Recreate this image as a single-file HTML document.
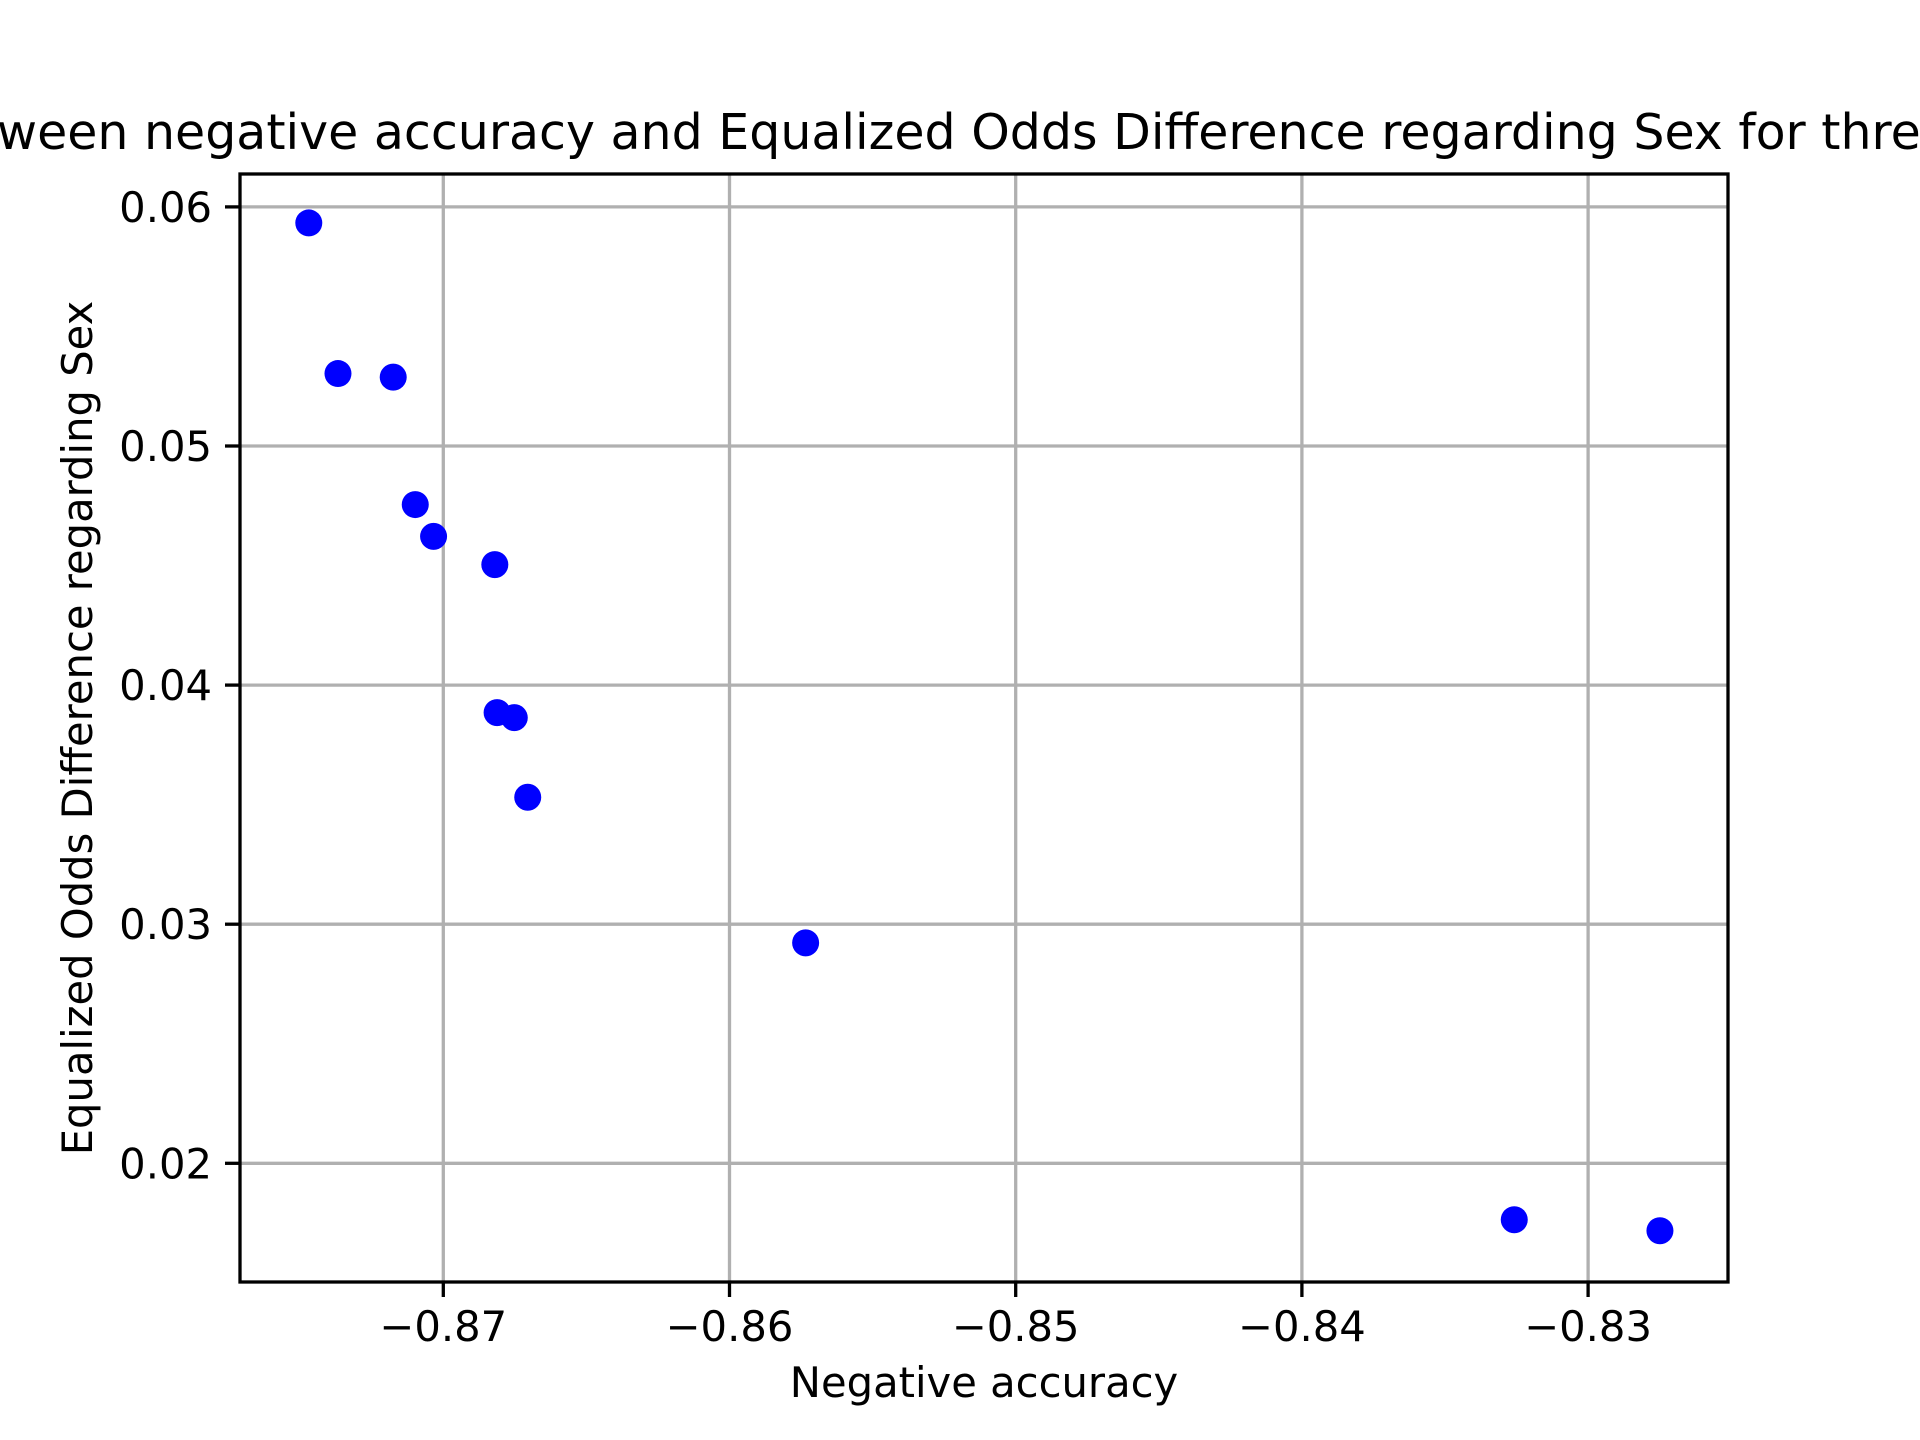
<!DOCTYPE html>
<html><head><meta charset="utf-8"><style>html,body{margin:0;padding:0;background:#fff;overflow:hidden}svg{display:block}text{font-family:"DejaVu Sans","Liberation Sans",sans-serif;fill:#000}</style></head>
<body>
<svg id="chart" width="1920" height="1440" viewBox="0 0 1920 1440" xmlns="http://www.w3.org/2000/svg">
<rect width="1920" height="1440" fill="#fff"/>
<text x="-3" y="149" font-size="49">ween negative accuracy and Equalized Odds Difference regarding Sex for thre</text>
<g id="grid"></g><g id="marks"></g><g id="ticks"></g>
<rect x="240" y="174" width="1488" height="1108" fill="none" stroke="#000" stroke-width="3.3"/>
<text x="984" y="1397" font-size="41.7" text-anchor="middle">Negative accuracy</text>
<text transform="translate(92,728) rotate(-90)" font-size="41.7" text-anchor="middle">Equalized Odds Difference regarding Sex</text>
</svg>
<script>
const xValues = [-0.8747, -0.87368, -0.87175, -0.87098, -0.87034, -0.8682, -0.86812, -0.86752, -0.86705, -0.85734, -0.83258, -0.82749];
const yValues = [0.05933, 0.05303, 0.05288, 0.04755, 0.04622, 0.04504, 0.03885, 0.03864, 0.03531, 0.02922, 0.01764, 0.01718];
const xTicks = [-0.87, -0.86, -0.85, -0.84, -0.83];
const xTickLabels = ["\u22120.87", "\u22120.86", "\u22120.85", "\u22120.84", "\u22120.83"];
const yTicks = [0.02, 0.03, 0.04, 0.05, 0.06];
const yTickLabels = ["0.02", "0.03", "0.04", "0.05", "0.06"];
const NS = "http://www.w3.org/2000/svg";
function xs(v){ return 443.3 + (v + 0.87) / 0.01 * 286.2; }
function ys(v){ return 206.9 + (0.06 - v) / 0.01 * 239.1; }
function mk(tag, attrs, parent){ const e = document.createElementNS(NS, tag); for (const k in attrs) e.setAttribute(k, attrs[k]); document.getElementById(parent).appendChild(e); return e; }
xTicks.forEach((t, i) => {
  const x = xs(t);
  const g = mk('line', {x1:x, x2:x, y1:174, y2:1282, stroke:'#b0b0b0', 'stroke-width':3.3}, 'grid');
  
  
  const tk = mk('line', {x1:x, x2:x, y1:1282, y2:1297, stroke:'#000', 'stroke-width':3.3}, 'ticks');
  
  
  const lb = mk('text', {x:x, y:1341, 'font-size':41.7, 'text-anchor':'middle'}, 'ticks');
  lb.textContent = xTickLabels[i];
  
  
});
yTicks.forEach((t, i) => {
  const y = ys(t);
  const g = mk('line', {x1:240, x2:1728, y1:y, y2:y, stroke:'#b0b0b0', 'stroke-width':3.3}, 'grid');
  
  
  const tk = mk('line', {x1:225, x2:240, y1:y, y2:y, stroke:'#000', 'stroke-width':3.3}, 'ticks');
  
  
  const lb = mk('text', {x:212, y:y + 15, 'font-size':41.7, 'text-anchor':'end'}, 'ticks');
  lb.textContent = yTickLabels[i];
  
  
});
xValues.forEach((v, i) => {
  const c = mk('circle', {cx:xs(v), cy:ys(yValues[i]), r:13.5, fill:'#0000ff'}, 'marks');
  
  
});
</script>
</body></html>
